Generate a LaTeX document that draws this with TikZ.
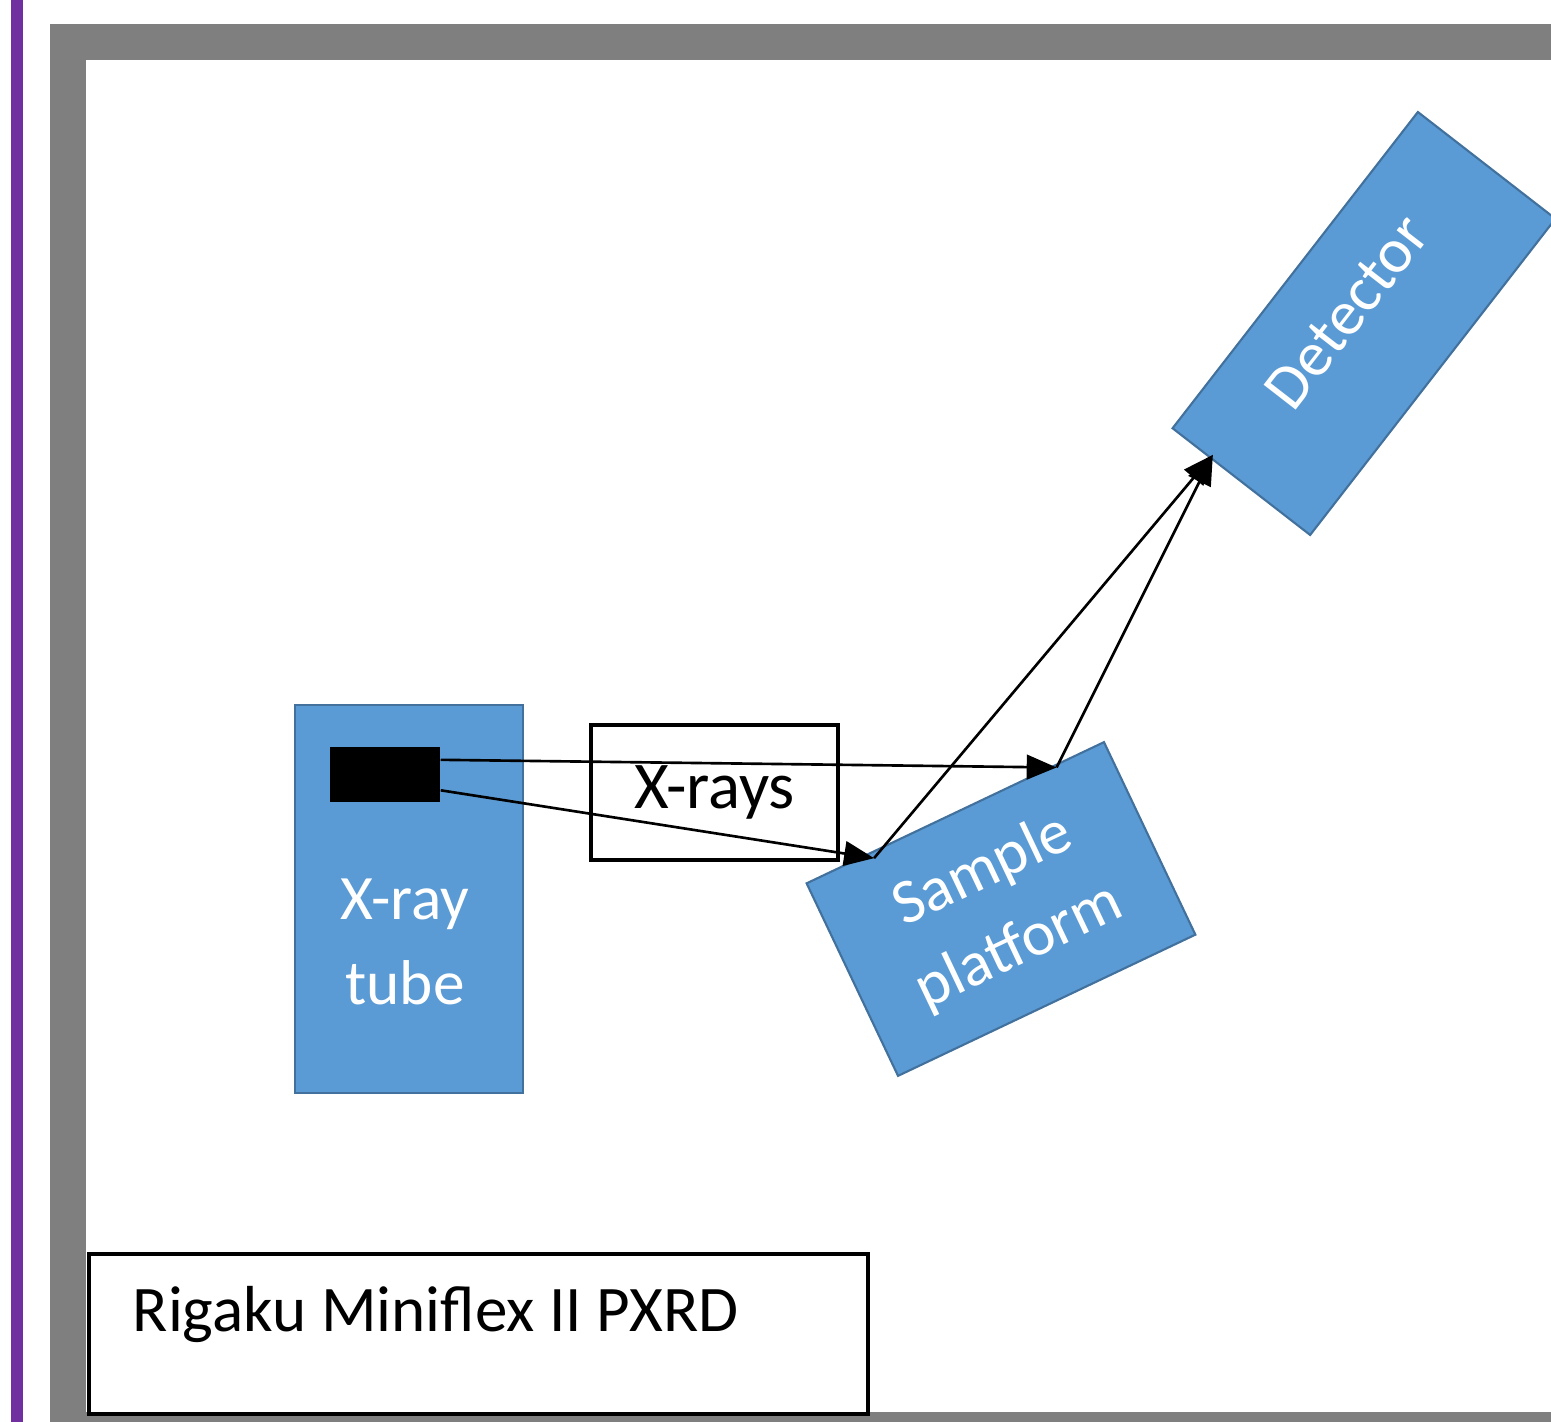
\documentclass[tikz,border=0pt]{standalone}
\usepackage{fontspec}
\setmainfont{Carlito}
\usetikzlibrary{calc,arrows.meta}
\definecolor{purp}{HTML}{7030A0}
\definecolor{framegray}{HTML}{7F7F7F}
\definecolor{boxblue}{HTML}{5B9BD5}
\definecolor{boxedge}{HTML}{41719C}
\begin{document}
\begin{tikzpicture}[x=0.01cm,y=-0.01cm,
  bluebox/.style={draw=boxedge, fill=boxblue, line width=0.6pt, inner sep=0pt},
  lbl/.style={text=white, font=\fontsize{18}{24}\selectfont, align=center},
  blk/.style={text=black, font=\fontsize{18.5}{24}\selectfont},
  arr/.style={draw=black, line width=0.75pt, -{Triangle[length=8.5pt,width=7pt]}}]
\useasboundingbox (0,0) rectangle (1551,1422);
\clip (0,0) rectangle (1551,1422);
\fill[white] (0,0) rectangle (1551,1422);
\fill[purp] (11,0) rectangle (23,1422);
\fill[framegray] (50,24) rectangle (1600,1480);
\fill[white] (86,60) rectangle (1600,1412);

% X-ray tube
\node[bluebox, minimum width=2.28cm, minimum height=3.88cm] (tube) at (409,899) {};
\node[fill=black, minimum width=1.10cm, minimum height=0.55cm, inner sep=0pt] (anode) at (385,774.5) {};
\node[lbl] (tubelbl) at (405,942) {X-ray\\tube};

% X-rays label box
\node[draw=black, line width=0.9pt, minimum width=2.47cm, minimum height=1.35cm, inner sep=0pt, blk, font=\fontsize{19}{24}\selectfont] (xrays) at (714.5,792.5) {X-rays};

% sample platform
\node[bluebox, lbl, rotate=25.4, minimum width=3.29cm, minimum height=2.13cm] (plat) at (1001,909) {Sample\\platform};

% detector
\node[bluebox, rotate=52.2, minimum width=4.00cm, minimum height=1.74cm] (det) at (1364,323.5) {};
\node[lbl, rotate=52.2] (detlbl) at (1347,312) {Detector};

% title box
\node[draw=black, line width=1pt, minimum width=7.79cm, minimum height=1.60cm, anchor=north west, inner sep=0pt] (title) at (87,1252) {};
\node[blk, anchor=base west, inner sep=0pt] (titletxt) at (132,1331) {Rigaku Miniflex II PXRD};

% connectors
\coordinate (srcU) at ($(anode.north east)!0.24!(anode.south east)$);
\coordinate (srcL) at ($(anode.north east)!0.78!(anode.south east)$);
\coordinate (hitA) at ($(plat.north west)!0.84!(plat.north east)+(0,4)$);
\coordinate (hitB) at ($(plat.north west)!0.23!(plat.north east)+(0,8)$);
\coordinate (hitD) at ($(det.north west)!0.30!(det.south west)+(0,-6)$);

\draw[arr] (srcU) -- (hitA);
\draw[arr] (srcL) -- (hitB);
\draw[arr] (hitB) -- (hitD);
\draw[arr] (hitA) -- (hitD);
\end{tikzpicture}
\end{document}
